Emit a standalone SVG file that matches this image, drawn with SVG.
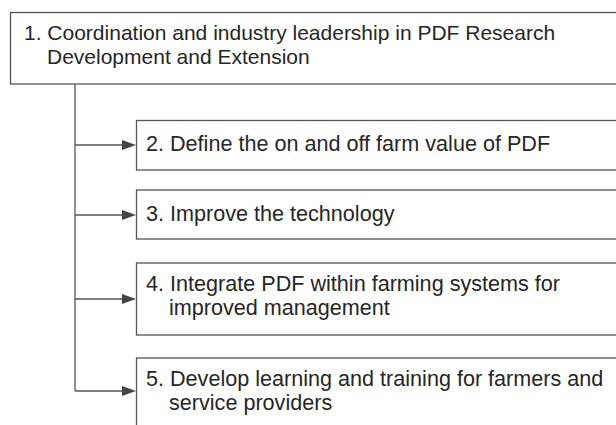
<svg xmlns="http://www.w3.org/2000/svg" width="616" height="425" viewBox="0 0 616 425">
<defs>
<style>
.box{fill:#ffffff;stroke:#555555;stroke-width:1.3}
.t{font-family:"Liberation Sans",Arial,sans-serif;font-size:21px;fill:#262626}
.s{font-size:21.6px}
.ln{fill:none;stroke:#555555;stroke-width:1.3}
.ah{fill:#444444}
</style>
</defs>
<rect width="616" height="425" fill="#ffffff"/>
<g id="node1">
<rect class="box" x="10.5" y="12.5" width="620" height="71.5"/>
<text class="t" x="24" y="40">1. Coordination and industry leadership in PDF Research</text>
<text class="t" x="47" y="64">Development and Extension</text>
</g>
<g id="node2">
<rect class="box" x="136.5" y="120.5" width="490" height="49.5"/>
<text class="t s" x="146" y="151">2. Define the on and off farm value of PDF</text>
</g>
<g id="node3">
<rect class="box" x="136.5" y="190" width="490" height="49"/>
<text class="t s" x="146" y="221">3. Improve the technology</text>
</g>
<g id="node4">
<rect class="box" x="136.5" y="263" width="490" height="72"/>
<text class="t s" x="146" y="291">4. Integrate PDF within farming systems for</text>
<text class="t s" x="169" y="315">improved management</text>
</g>
<g id="node5">
<rect class="box" x="136.5" y="358" width="490" height="80"/>
<text class="t s" x="146" y="386">5. Develop learning and training for farmers and</text>
<text class="t s" x="169" y="410">service providers</text>
</g>
<g id="connectors">
<path class="ln" d="M75 84 V391"/>
<path class="ln" d="M75 145 H123"/>
<path class="ln" d="M75 215 H123"/>
<path class="ln" d="M75 299 H123"/>
<path class="ln" d="M75 391 H123"/>
<path class="ah" d="M122 140 L136 145 L122 150 Z"/>
<path class="ah" d="M122 210 L136 215 L122 220 Z"/>
<path class="ah" d="M122 294 L136 299 L122 304 Z"/>
<path class="ah" d="M122 386 L136 391 L122 396 Z"/>
</g>
</svg>
